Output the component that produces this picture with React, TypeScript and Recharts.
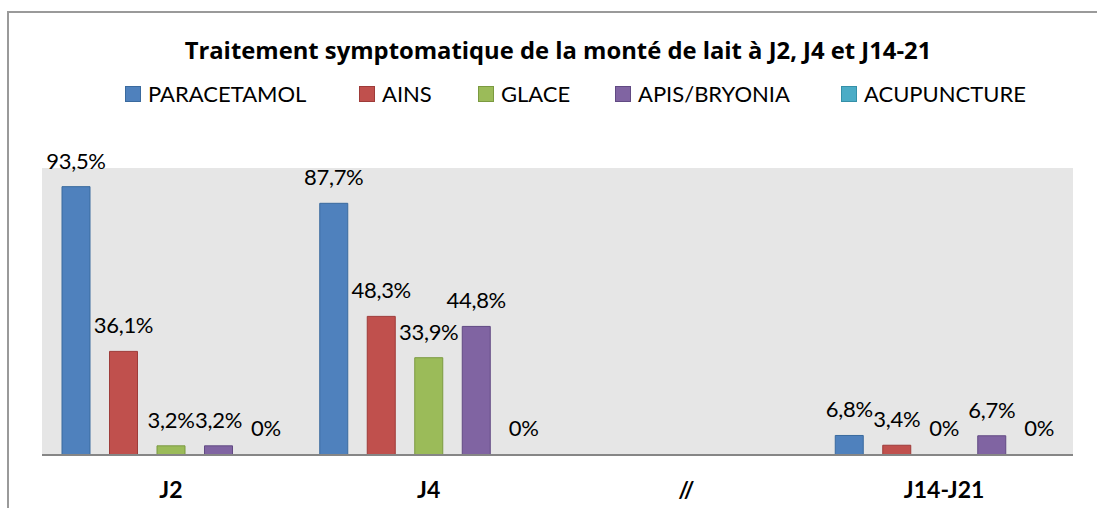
import React from 'react';
import { BarChart, Bar, XAxis, YAxis, CartesianGrid, LabelList, Legend, Cell } from 'recharts';

// values (%); the "//" column is an empty spacer
const categories = ['J2', 'J4', '//', 'J14-J21'];
const paracetamol = [93.5, 87.7, null, 6.8];
const ains = [36.1, 48.3, null, 3.4];
const glace = [3.2, 33.9, null, 0];
const apisBryonia = [3.2, 44.8, null, 6.7];
const acupuncture = [0, 0, null, 0];

const SERIES = [
  { key: 'paracetamol', name: 'PARACETAMOL', fill: '#4F81BD', stroke: '#3A6A9E' },
  { key: 'ains', name: 'AINS', fill: '#C0504D', stroke: '#9E3B39' },
  { key: 'glace', name: 'GLACE', fill: '#9BBB59', stroke: '#7B9A40' },
  { key: 'apisBryonia', name: 'APIS/BRYONIA', fill: '#8064A2', stroke: '#614A83' },
  { key: 'acupuncture', name: 'ACUPUNCTURE', fill: '#4BACC6', stroke: '#3590A8' },
];

const LEGEND_WIDTHS = [234, 119, 137, 226, 190];

const data = categories.map((category, i) => ({
  category,
  paracetamol: paracetamol[i],
  ains: ains[i],
  glace: glace[i],
  apisBryonia: apisBryonia[i],
  acupuncture: acupuncture[i],
}));

const FONT = 'Lato, "Open Sans", sans-serif';

const formatPct = (v: any) => {
  if (v === null || v === undefined) return '';
  if (Number(v) === 0) return '0%';
  return `${Number(v).toFixed(1).replace('.', ',')}%`;
};

const renderLabel = (props: any) => {
  const { x, y, width, value } = props;
  if (value === null || value === undefined) return null;
  return (
    <text
      x={Number(x) + Number(width) / 2}
      y={Number(y) - 18}
      textAnchor="middle"
      fill="#000"
      fontFamily={FONT}
      fontSize={22}
      letterSpacing={-0.3}
    >
      {formatPct(value)}
    </text>
  );
};

const renderLegend = () => (
  <div style={{ display: 'flex', alignItems: 'center', fontFamily: FONT, fontSize: 22, color: '#000' }}>
    {SERIES.map((s, i) => (
      <div key={s.key} style={{ display: 'flex', alignItems: 'center', width: LEGEND_WIDTHS[i] }}>
        <span
          style={{
            display: 'inline-block',
            width: 14,
            height: 14,
            background: s.fill,
            border: `1px solid ${s.stroke}`,
            marginRight: 7,
          }}
        />
        <span>{s.name}</span>
      </div>
    ))}
  </div>
);

const App: React.FC = () => {
  return (
    <div style={{ position: 'absolute', left: 0, top: 0, width: 1097, height: 508, background: '#fff', overflow: 'hidden' }}>
      <style>{'html, body { margin: 0; overflow: hidden; }'}</style>
      <div style={{ position: 'absolute', left: 7, top: 11, width: 1090, height: 2, background: '#9a9a9a' }} />
      <div style={{ position: 'absolute', left: 7, top: 11, width: 2, height: 497, background: '#9a9a9a' }} />
      <div
        style={{
          position: 'absolute',
          left: 19,
          top: 34,
          width: 1078,
          textAlign: 'center',
          fontFamily: '"Open Sans", Lato, sans-serif',
          fontWeight: 700,
          fontSize: 23.8,
          lineHeight: 'normal',
          whiteSpace: 'nowrap',
          color: '#000',
        }}
      >
        Traitement symptomatique de la monté de lait à J2, J4 et J14-21
      </div>
      <div style={{ position: 'absolute', left: 0, top: 0 }}>
        <BarChart
          width={1097}
          height={508}
          data={data}
          margin={{ top: 168, right: 24, bottom: 13, left: 42 }}
          barSize={28}
          barGap={19.5}
        >
          <CartesianGrid fill="#e6e6e6" stroke="none" />
          <YAxis hide domain={[0, 100]} />
          <XAxis
            dataKey="category"
            height={40}
            tickLine={false}
            tickSize={0}
            tickMargin={27}
            axisLine={{ stroke: '#868686', strokeWidth: 2 }}
            tick={{ fill: '#000', fontFamily: FONT, fontWeight: 700, fontSize: 23 }}
            interval={0}
          />
          <Legend
            layout="horizontal"
            verticalAlign="middle"
            align="center"
            content={renderLegend}
            wrapperStyle={{ position: 'absolute', top: 80, left: 125, width: 910 }}
          />
          {SERIES.map((s) => (
            <Bar
              key={s.key}
              dataKey={s.key}
              name={s.name}
              fill={s.fill}
              stroke={s.stroke}
              strokeWidth={1}
              minPointSize={1}
              isAnimationActive={false}
            >
              {data.map((d: any, i) => (
                <Cell
                  key={`${s.key}-${i}`}
                  fill={d[s.key] === 0 ? 'none' : s.fill}
                  stroke={d[s.key] === 0 ? 'none' : s.stroke}
                />
              ))}
              <LabelList dataKey={s.key} content={renderLabel} />
            </Bar>
          ))}
        </BarChart>
      </div>
    </div>
  );
};

export default App;
